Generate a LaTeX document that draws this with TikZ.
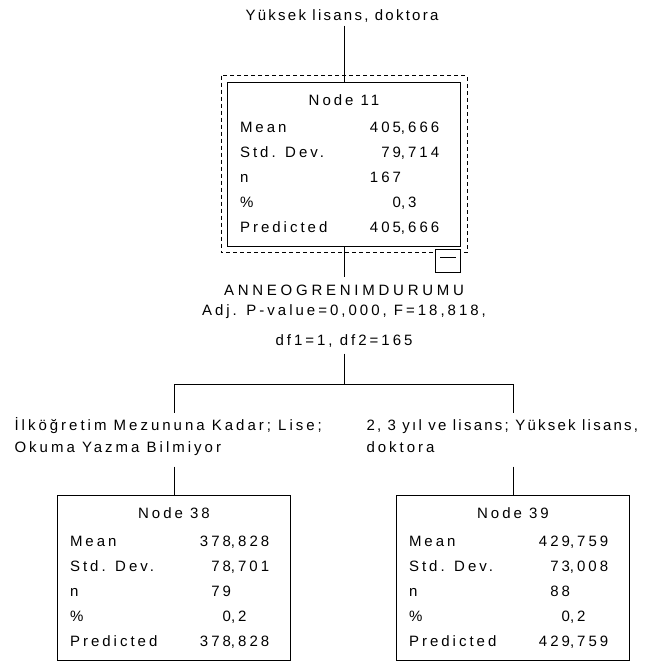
\documentclass[tikz,border=0pt]{standalone}
\usepackage{fontspec}
\setmainfont{Liberation Sans}[LetterSpace=20]
\newfontfamily\tightf{Liberation Sans}[LetterSpace=15]
\newfontfamily\widef{Liberation Sans}[LetterSpace=25]
\usetikzlibrary{calc}
\newcommand\decv[2]{\makebox[0pt][r]{#1}\makebox[0pt][l]{#2}}
\newcommand\spssrows[7]{%
  \node[val] (#1-h) at ($(#1.north)+(0,23.5)$) {#2};
  \node[cell] (#1-l1) at ($(#1.north west)+(12.5,51)$) {Mean};
  \node[cell] (#1-l2) at ($(#1.north west)+(12.5,76)$) {Std. Dev.};
  \node[cell] (#1-l3) at ($(#1.north west)+(12.5,101)$) {n};
  \node[cell] (#1-l4) at ($(#1.north west)+(12.5,126)$) {\%};
  \node[cell] (#1-l5) at ($(#1.north west)+(12.5,151)$) {Predicted};
  \node[val] (#1-v1) at ($(#1.north west)+(174,51)$) {#3};
  \node[val] (#1-v2) at ($(#1.north west)+(174,76)$) {#4};
  \node[val] (#1-v3) at ($(#1.north west)+(174,101)$) {#5};
  \node[val] (#1-v4) at ($(#1.north west)+(174,126)$) {#6};
  \node[val] (#1-v5) at ($(#1.north west)+(174,151)$) {#7};
}
\begin{document}
\begin{tikzpicture}[x=1pt,y=-1pt,line width=1pt,
  every node/.style={font=\fontsize{15pt}{18pt}\selectfont},
  txt/.style={inner sep=0pt,anchor=base},
  stat/.style={draw,rectangle,minimum width=233pt,minimum height=164.5pt,inner sep=0pt},
  cell/.style={inner sep=0pt,anchor=base west},
  val/.style={inner sep=0pt,anchor=base},
  frame/.style={dashed,dash pattern=on 4pt off 3pt,line width=1pt}]
\useasboundingbox (0,0) rectangle (654,664);

% top label
\node[txt,text depth=5pt] (t0) at (342,20) {\tightf Yüksek lisans, doktora};

% node 11
\node[stat] (n11) at (344,164.25) {};
\draw[frame] ($(n11.north west)+(-6,-6)$) rectangle ($(n11.south east)+(6,5.5)$);
\node[draw,fill=white,minimum width=25pt,minimum height=23pt,inner sep=0pt,anchor=north east] (tog) at ($(n11.south east)+(0,1.5)$) {};
\draw ($(tog.north west)+(5,9)$) -- ($(tog.north east)+(-5,9)$);
\spssrows{n11}{Node 11}{\decv{405}{,666}}{\decv{79}{,714}}{\decv{167}{}}{\decv{0}{,3}}{\decv{405}{,666}}

% split label
\node[txt,text height=18pt] (s1) at (344,295) {\widef ANNEOGRENIMDURUMU};
\node[txt] (s2) at (344,315.5) {Adj. P-value=0,000, F=18,818,};
\node[txt,text depth=8pt] (s3) at (344,345) {df1=1, df2=165};

% branches
\coordinate (hc) at (344,384);
\coordinate (hl) at (174,384);
\coordinate (hr) at (513,384);

\node[txt,anchor=base west,text height=17pt] (L1) at (14,430) {İlköğretim Mezununa Kadar; Lise;};
\node[txt,anchor=base west,text depth=14pt] (L2) at (14,452) {Okuma Yazma Bilmiyor};
\node[txt,anchor=base west,text height=17pt] (R1) at (366,430) {\tightf 2, 3 yıl ve lisans; Yüksek lisans,};
\node[txt,anchor=base west,text depth=14pt] (R2) at (366,452) {doktora};

\node[stat] (n38) at (174,577.75) {};
\spssrows{n38}{Node 38}{\decv{378}{,828}}{\decv{78}{,701}}{\decv{79}{}}{\decv{0}{,2}}{\decv{378}{,828}}
\node[stat] (n39) at (513,577.75) {};
\spssrows{n39}{Node 39}{\decv{429}{,759}}{\decv{73}{,008}}{\decv{88}{}}{\decv{0}{,2}}{\decv{429}{,759}}

% connectors
\draw (t0.south -| n11.north) -- (n11.north);
\draw (n11.south) -- (s1.north);
\draw (s3.south) -- (hc);
\draw (hl) -- (hr);
\draw (hl) -- (hl |- L1.north);
\draw (hr) -- (hr |- R1.north);
\draw (n38.north |- L2.south) -- (n38.north);
\draw (n39.north |- R2.south) -- (n39.north);
\end{tikzpicture}
\end{document}
